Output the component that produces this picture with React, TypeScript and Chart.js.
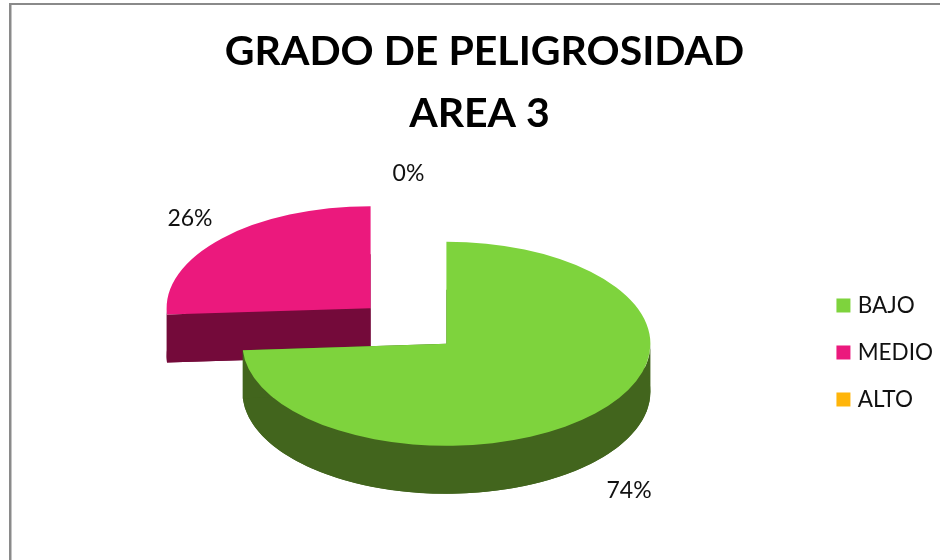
import React, { useEffect, useRef } from "react";
import { Chart, registerables } from "chart.js";

Chart.register(...registerables);

const titleLines = ["GRADO DE PELIGROSIDAD", "AREA 3 "];
const categories = ["BAJO", "MEDIO", "ALTO"];
const shares = [74, 26, 0];

const topColors = ["#7ED33D", "#EB197D", "#FFB50A"];
const wallColors = ["#42651D", "#740A3A", "#7F5A05"];
const FONT = "Lato, Carlito, 'Open Sans', sans-serif";

// 3D look of the original pie
const PIE = { centerX: 408.5, centerY: 326, radius: 204, squash: 0.5, explode: 52, depth: 48 };
const LABEL = { radius: 308, nudges: [[-4, 11], [6, -2], [0, 2]] };

const pie3d = {
  id: "pie3d",
  beforeDraw(chart: any) {
    const { ctx } = chart;
    ctx.save();
    ctx.fillStyle = "#8A8A8A";
    ctx.fillRect(9, 3, chart.width - 9, 2);
    ctx.fillRect(9, 3, 2.5, chart.height - 3);
    ctx.restore();
  },
  beforeDatasetsDraw(chart: any) {
    const { ctx } = chart;
    const arcs = chart.getDatasetMeta(0).data;
    const place = (el: any) => {
      const half = (el.startAngle + el.endAngle) / 2;
      ctx.translate(PIE.centerX, PIE.centerY);
      ctx.scale(1, PIE.squash);
      ctx.translate(Math.cos(half) * PIE.explode - el.x, Math.sin(half) * PIE.explode - el.y);
    };
    const D = PIE.depth / PIE.squash;
    [...arcs.keys()].reverse().forEach((i: number) => {
      const el = arcs[i];
      if (el.circumference === 0) return;
      const { x, y, outerRadius: R, startAngle: a0, endAngle: a1 } = el;
      ctx.save();
      place(el);
      ctx.fillStyle = wallColors[i];
      // front part of the rim (canvas angles 0..PI face the viewer)
      const s = Math.max(a0, 0);
      const e = Math.min(a1, Math.PI);
      if (e > s) {
        ctx.beginPath();
        ctx.arc(x, y, R, s, e);
        ctx.arc(x, y + D, R, e, s, true);
        ctx.closePath();
        ctx.fill();
      }
      // floor of the slice
      ctx.beginPath();
      ctx.moveTo(x, y + D);
      ctx.arc(x, y + D, R, a0, a1);
      ctx.closePath();
      ctx.fill();
      // two radial faces
      [a0, a1].forEach((a: number) => {
        const px = x + Math.cos(a) * R;
        const py = y + Math.sin(a) * R;
        ctx.beginPath();
        ctx.moveTo(x, y);
        ctx.lineTo(px, py);
        ctx.lineTo(px, py + D);
        ctx.lineTo(x, y + D);
        ctx.closePath();
        ctx.fill();
      });
      el.draw(ctx);
      ctx.restore();
    });
    ctx.save();
    ctx.fillStyle = "#111";
    ctx.font = `23px ${FONT}`;
    ctx.textAlign = "center";
    ctx.textBaseline = "middle";
    arcs.forEach((el: any, i: number) => {
      const half = (el.startAngle + el.endAngle) / 2;
      const below = Math.sin(half) > 0 ? PIE.depth : 0;
      const x = PIE.centerX + Math.cos(half) * LABEL.radius + LABEL.nudges[i][0];
      const y = PIE.centerY + Math.sin(half) * LABEL.radius * PIE.squash + below + LABEL.nudges[i][1];
      ctx.fillText(`${shares[i]}%`, x, y);
    });
    ctx.restore();
    return false;
  },
};

export default function App() {
  const ref = useRef<HTMLCanvasElement>(null);
  useEffect(() => {
    const chart = new Chart(ref.current as HTMLCanvasElement, {
      type: "pie",
      data: {
        labels: categories,
        datasets: [{ data: shares, backgroundColor: topColors, borderWidth: 0 }],
      },
      options: {
        responsive: false,
        animation: false,
        radius: PIE.radius,
        layout: { padding: { left: 26, right: -3, bottom: -5 } },
        plugins: {
          tooltip: { enabled: false },
          title: {
            display: true,
            text: titleLines,
            color: "#000",
            font: { family: FONT, size: 41, weight: "bold", lineHeight: 1.512 },
            padding: { top: 21, bottom: 0 },
          },
          legend: {
            position: "right",
            fullSize: false,
            labels: {
              usePointStyle: true,
              pointStyle: "rect",
              boxWidth: 6,
              boxHeight: 14,
              padding: 24.5,
              color: "#111",
              font: { family: FONT, size: 22.5 },
            },
          },
        },
      } as any,
      plugins: [pie3d],
    } as any);
    return () => chart.destroy();
  }, []);
  return (
    <canvas
      ref={ref}
      width={940}
      height={560}
      style={{ position: "absolute", left: 0, top: 0, display: "block", width: 940, height: 560 }}
    />
  );
}
